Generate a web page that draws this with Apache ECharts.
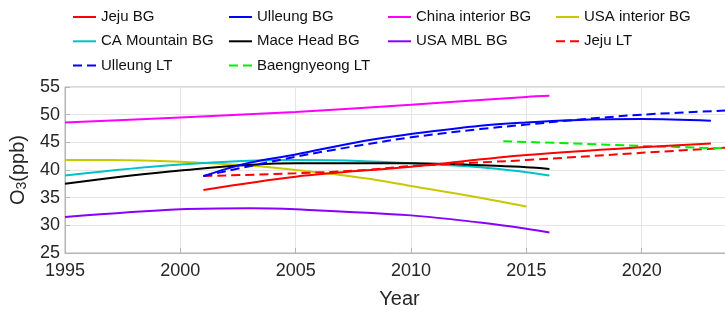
<!DOCTYPE html>
<html>
<head>
<meta charset="utf-8">
<script src="https://cdn.jsdelivr.net/npm/echarts@6/dist/echarts.min.js"></script>
<style>
	html, body { margin: 0; padding: 0; background: #fff; }
	#chart { width: 725px; height: 310px; }
</style>
</head>
<body>
<div id="chart"></div>
<script>
// years (x) and O3 values (ppb)
const jejuBgYears = [2001, 2005, 2010, 2015, 2020, 2023]
const jejuBg = [36.4, 38.8, 40.6, 42.7, 44.1, 44.8]

const ulleungBgYears = [2001, 2002, 2003, 2005, 2008, 2010, 2013, 2015, 2017, 2020, 2023]
const ulleungBg = [38.9, 40.2, 41.3, 42.8, 45.3, 46.5, 48.0, 48.6, 49.0, 49.2, 48.9]

const chinaYears = [1995, 2000, 2005, 2010, 2015, 2016]
const china = [48.6, 49.5, 50.5, 51.8, 53.2, 53.4]

const usaInteriorYears = [1995, 1997, 2000, 2003, 2005, 2008, 2010, 2013, 2015]
const usaInterior = [41.8, 41.8, 41.5, 40.8, 40.0, 38.5, 37.1, 35.0, 33.4]

const caMountainYears = [1995, 2000, 2005, 2008, 2010, 2013, 2015, 2016]
const caMountain = [39.0, 41.0, 41.8, 41.6, 41.2, 40.5, 39.6, 39.0]

const maceHeadYears = [1995, 2000, 2005, 2010, 2015, 2016]
const maceHead = [37.5, 39.9, 41.2, 41.2, 40.5, 40.2]

const usaMblYears = [1995, 2000, 2003, 2005, 2010, 2013, 2015, 2016]
const usaMbl = [31.5, 32.9, 33.1, 32.9, 31.8, 30.5, 29.4, 28.7]

const jejuLtYears = [2001, 2005, 2008, 2010, 2015, 2020, 2024]
const jejuLt = [38.9, 39.4, 40.0, 40.7, 41.8, 43.1, 44.1]

const ulleungLtYears = [2001, 2005, 2008, 2010, 2013, 2015, 2017, 2020, 2024]
const ulleungLt = [38.9, 42.4, 44.6, 45.9, 47.4, 48.2, 49.0, 50.0, 50.8]

const baengYears = [2014, 2017, 2020, 2024]
const baeng = [45.2, 44.8, 44.35, 43.85]

const xTicks = { min: 1995, max: 2024, step: 5 }
const yTicks = { min: 25, max: 55, step: 5 }

function pairs(xs, ys) {
	return xs.map((x, i) => [x, ys[i]])
}

function line(name, xs, ys, color, dashed) {
	return {
		name: name,
		type: "line",
		data: pairs(xs, ys),
		symbol: "none",
		smooth: 0.35,
		color: color,
		lineStyle: {
			color: color,
			width: 2,
			type: dashed ? [9, 5] : "solid"
		}
	}
}

const font = "'Liberation Sans', Arial, sans-serif"

function legendCol(left, names) {
	return {
		orient: "vertical",
		left: left,
		top: 9.5,
		padding: 0,
		data: names,
		itemWidth: 23,
		itemHeight: 14,
		itemGap: 9.3,
		itemStyle: { opacity: 0 },
		textStyle: { fontFamily: font, fontSize: 15, color: "#111", lineHeight: 14 }
	}
}

const chart = echarts.init(document.getElementById("chart"))
chart.setOption({
	animation: false,
	backgroundColor: "#fff",
	legend: [
		legendCol(72, ["Jeju BG", "CA Mountain BG", "Ulleung LT"]),
		legendCol(228, ["Ulleung BG", "Mace Head BG", "Baengnyeong LT"]),
		legendCol(387, ["China interior BG", "USA MBL BG"]),
		legendCol(555, ["USA interior BG", "Jeju LT"])
	],
	grid: {
		left: 65,
		right: -9,
		top: 87,
		bottom: 57,
		outerBoundsMode: "none",
		show: true,
		borderColor: "#b4b4b4",
		borderWidth: 1
	},
	xAxis: {
		type: "value",
		min: xTicks.min,
		max: xTicks.max,
		interval: xTicks.step,
		name: "Year",
		nameLocation: "middle",
		nameGap: 36,
		nameTextStyle: { fontFamily: font, fontSize: 20, color: "#262626" },
		axisLine: { lineStyle: { color: "#b4b4b4" } },
		axisTick: { inside: true, length: 5, lineStyle: { color: "#b4b4b4" } },
		axisLabel: {
			fontFamily: font,
			fontSize: 18,
			color: "#262626",
			margin: 9,
			showMaxLabel: false,
			formatter: v => String(v)
		},
		splitLine: { show: true, lineStyle: { color: "#e6e6e6" } }
	},
	yAxis: {
		type: "value",
		min: yTicks.min,
		max: yTicks.max,
		interval: yTicks.step,
		name: "{a|O}{b|3}{a|(ppb)}",
		nameLocation: "middle",
		nameGap: 30,
		nameTextStyle: {
			color: "#262626",
			rich: {
				a: { fontFamily: font, fontSize: 20, lineHeight: 22, color: "#262626" },
				b: { fontFamily: font, fontSize: 14, lineHeight: 10, verticalAlign: "bottom", color: "#262626" }
			}
		},
		axisLine: { show: true, lineStyle: { color: "#b4b4b4" } },
		axisTick: { show: true, inside: true, length: 5, lineStyle: { color: "#b4b4b4" } },
		axisLabel: { fontFamily: font, fontSize: 18, color: "#262626", margin: 5 },
		splitLine: { show: true, lineStyle: { color: "#e6e6e6" } }
	},
	series: [
		line("China interior BG", chinaYears, china, "#ff00ff"),
		line("USA interior BG", usaInteriorYears, usaInterior, "#c8c800"),
		line("CA Mountain BG", caMountainYears, caMountain, "#00c0c8"),
		line("Mace Head BG", maceHeadYears, maceHead, "#000000"),
		line("USA MBL BG", usaMblYears, usaMbl, "#8a00ff"),
		line("Jeju LT", jejuLtYears, jejuLt, "#ff0000", true),
		line("Ulleung LT", ulleungLtYears, ulleungLt, "#0000ff", true),
		line("Baengnyeong LT", baengYears, baeng, "#00ee00", true),
		line("Jeju BG", jejuBgYears, jejuBg, "#ff0000"),
		line("Ulleung BG", ulleungBgYears, ulleungBg, "#0000ff")
	]
})
</script>
</body>
</html>
